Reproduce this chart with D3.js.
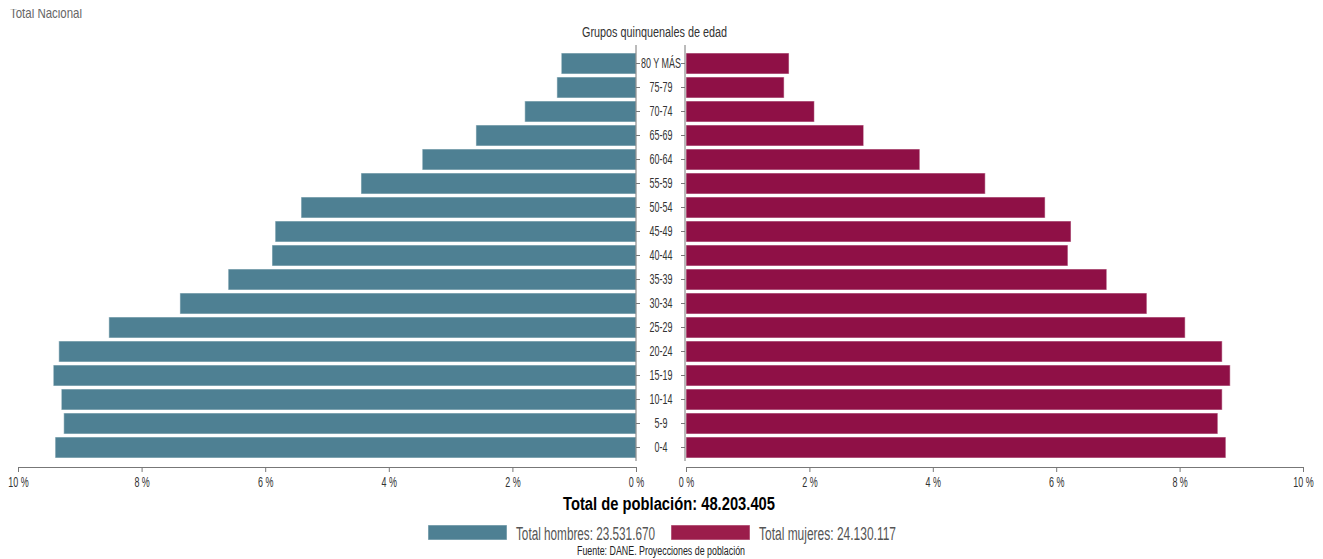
<!DOCTYPE html>
<html lang="es">
<head>
    <meta charset="UTF-8">
    <title>Pirámide poblacional - Total Nacional</title>
    <script src="https://d3js.org/d3.v7.min.js"></script>
    <style>
        body {
            margin: 0;
            background-color: white;
            font-family: "Liberation Sans", Arial, sans-serif;
        }
        .axis path, .axis line {
            stroke: #777;
        }
        .axis text {
            font-size: 14px;
            fill: #333;
        }
    </style>
</head>
<body>
    <div id="chart"></div>
    <script>
        // Data (percent of total population by five-year age group, top to bottom)
        const ageGroups = ["80 Y MÁS", "75-79", "70-74", "65-69", "60-64", "55-59", "50-54", "45-49",
                           "40-44", "35-39", "30-34", "25-29", "20-24", "15-19", "10-14", "5-9", "0-4"];
        const menPct   = [1.21, 1.28, 1.80, 2.59, 3.46, 4.45, 5.42, 5.84, 5.89, 6.60, 7.38, 8.53, 9.34, 9.43, 9.30, 9.26, 9.40];
        const womenPct = [1.67, 1.59, 2.08, 2.88, 3.79, 4.85, 5.82, 6.24, 6.19, 6.82, 7.47, 8.09, 8.69, 8.82, 8.69, 8.62, 8.75];
        const pctTicks = [0, 2, 4, 6, 8, 10];
        const legendLabels = ["Total hombres: 23.531.670", "Total mujeres: 24.130.117"];
        const totalLabel = "Total de población: 48.203.405";

        const width = 1323, height = 559;
        const menColor = "#4e8093", womenColor = "#8f1046";
        const squeeze = 0.64; // the original text is horizontally compressed

        const svg = d3.select("#chart")
          .append("svg")
            .attr("width", width)
            .attr("height", height);

        // Scales
        const xLeft = d3.scaleLinear().domain([0, 10]).range([636, 18]);
        const xRight = d3.scaleLinear().domain([0, 10]).range([686, 1303]);
        const y = d3.scaleBand().domain(ageGroups).range([50, 461]).padding(0.125);

        const rows = ageGroups.map((g, i) => ({group: g, men: menPct[i], women: womenPct[i]}));

        // Title, clipped at the top as in the original
        svg.append("clipPath").attr("id", "topclip")
          .append("rect").attr("x", 0).attr("y", 9).attr("width", 300).attr("height", 20);
        svg.append("text")
            .attr("clip-path", "url(#topclip)")
            .attr("x", 10).attr("y", 18)
            .attr("font-size", 15)
            .attr("fill", "#666")
            .attr("textLength", 72).attr("lengthAdjust", "spacingAndGlyphs")
            .text("Total Nacional");

        svg.append("text")
            .attr("x", 582).attr("y", 37)
            .attr("font-size", 14)
            .attr("fill", "#333")
            .attr("textLength", 145).attr("lengthAdjust", "spacingAndGlyphs")
            .text("Grupos quinquenales de edad");

        // Bars
        svg.selectAll(".men")
            .data(rows)
            .enter().append("rect")
            .attr("class", "men")
            .attr("x", d => xLeft(d.men))
            .attr("y", d => y(d.group))
            .attr("width", d => xLeft(0) - xLeft(d.men))
            .attr("height", y.bandwidth())
            .attr("fill", menColor)
            .attr("stroke", "#fff").attr("stroke-opacity", 0.55);

        svg.selectAll(".women")
            .data(rows)
            .enter().append("rect")
            .attr("class", "women")
            .attr("x", xRight(0))
            .attr("y", d => y(d.group))
            .attr("width", d => xRight(d.women) - xRight(0))
            .attr("height", y.bandwidth())
            .attr("fill", womenColor)
            .attr("stroke", "#fff").attr("stroke-opacity", 0.55);

        // Vertical axes with the age labels in between
        const leftY = svg.append("g")
            .attr("class", "axis")
            .attr("transform", "translate(636,0)")
            .call(d3.axisRight(y).tickSize(4).tickSizeOuter(0));
        leftY.selectAll("text")
            .attr("x", 0)
            .attr("text-anchor", "middle")
            .attr("fill", "#222")
            .attr("transform", `translate(25,0) scale(${squeeze},1)`);
        leftY.select(".domain").attr("d", "M0,45V461");

        const rightY = svg.append("g")
            .attr("class", "axis")
            .attr("transform", "translate(685,0)")
            .call(d3.axisLeft(y).tickSize(4).tickSizeOuter(0).tickFormat(""));
        rightY.select(".domain").attr("d", "M0,45V461");

        // Horizontal percent axes
        const fmt = d => d + " %";
        [xLeft, xRight].forEach(sc => {
            const g = svg.append("g")
                .attr("class", "axis")
                .attr("transform", "translate(0,467)")
                .call(d3.axisBottom(sc).tickValues(pctTicks).tickFormat(fmt).tickSize(5).tickSizeOuter(0));
            g.selectAll("text")
                .attr("y", 10)
                .attr("transform", `scale(${squeeze},1)`);
        });

        // Total population
        svg.append("text")
            .attr("x", 563).attr("y", 510)
            .attr("font-size", 18)
            .attr("font-weight", "bold")
            .attr("fill", "#000")
            .attr("textLength", 212).attr("lengthAdjust", "spacingAndGlyphs")
            .text(totalLabel);

        // Legend
        const legend = [
            {label: legendLabels[0], color: menColor, x: 428, w: 139},
            {label: legendLabels[1], color: "#9b1d4b", x: 671, w: 137}
        ];
        const lg = svg.selectAll(".legend")
            .data(legend)
            .enter().append("g")
            .attr("class", "legend")
            .attr("transform", d => `translate(${d.x},525)`);
        lg.append("rect")
            .attr("width", 79).attr("height", 15)
            .attr("fill", d => d.color)
            .attr("stroke", "#fff").attr("stroke-opacity", 0.5);
        lg.append("text")
            .attr("x", 88).attr("y", 15)
            .attr("font-size", 18)
            .attr("fill", "#555")
            .attr("textLength", d => d.w).attr("lengthAdjust", "spacingAndGlyphs")
            .text(d => d.label);

        // Source
        svg.append("text")
            .attr("x", 577).attr("y", 555)
            .attr("font-size", 12)
            .attr("fill", "#222")
            .attr("textLength", 168).attr("lengthAdjust", "spacingAndGlyphs")
            .text("Fuente: DANE. Proyecciones de población");
    </script>
</body>
</html>
